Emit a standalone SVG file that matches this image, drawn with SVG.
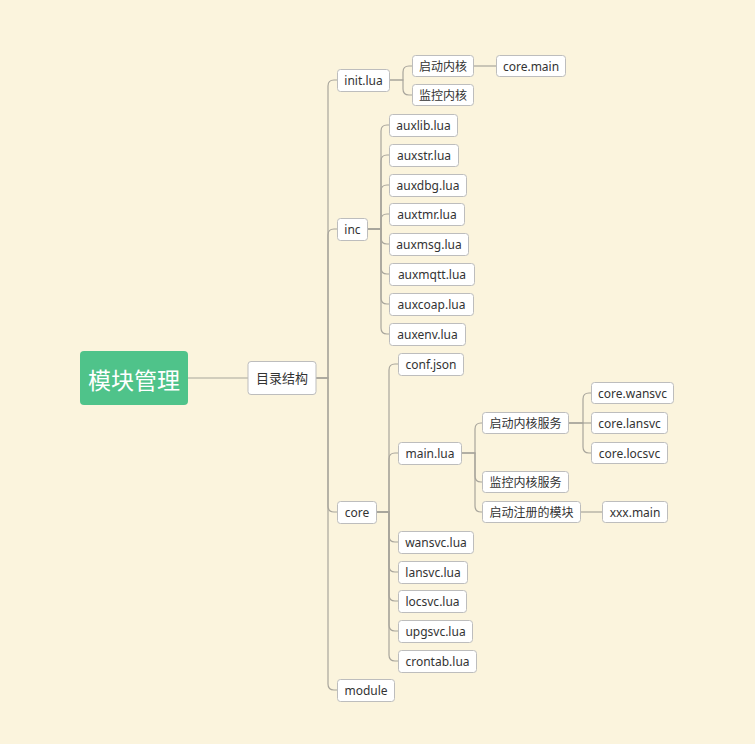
<svg xmlns="http://www.w3.org/2000/svg" width="755" height="744" viewBox="0 0 755 744">
<style>
.bg{fill:#FBF4DD}
.n rect{fill:#fff;stroke:#BDBDBD;stroke-width:1}
.n text{font-family:"Noto Sans","Noto Sans CJK SC",sans-serif;font-size:12px;fill:#333;text-anchor:middle;dominant-baseline:central}
.c path{fill:none;stroke:#A8A59C;stroke-width:1.2}
</style>
<rect class="bg" x="0" y="0" width="755" height="744"/>
<g class="c" id="connectors">
<path d="M188 378H248"/>
<path d="M316 378H328V86Q328 80 334 80H337"/>
<path d="M316 378H328V235Q328 229 334 229H337"/>
<path d="M316 378H328V506Q328 512 334 512H337"/>
<path d="M316 378H328V684Q328 690 334 690H337"/>
<path d="M389 80H403V72Q403 66 409 66H412"/>
<path d="M389 80H403V89Q403 95 409 95H412"/>
<path d="M473 66H496"/>
<path d="M367 229H381V131Q381 125 387 125H389"/>
<path d="M367 229H381V161Q381 155 387 155H389"/>
<path d="M367 229H381V191Q381 185 387 185H389"/>
<path d="M367 229H381V220Q381 214 387 214H389"/>
<path d="M367 229H381V238Q381 244 387 244H389"/>
<path d="M367 229H381V268Q381 274 387 274H389"/>
<path d="M367 229H381V298Q381 304 387 304H389"/>
<path d="M367 229H381V328Q381 334 387 334H389"/>
<path d="M376 512H389V370Q389 364 395 364H398"/>
<path d="M376 512H389V459Q389 453 395 453H398"/>
<path d="M376 512H389V536Q389 542 395 542H398"/>
<path d="M376 512H389V566Q389 572 395 572H398"/>
<path d="M376 512H389V595Q389 601 395 601H398"/>
<path d="M376 512H389V625Q389 631 395 631H398"/>
<path d="M376 512H389V655Q389 661 395 661H398"/>
<path d="M461 453H475V429Q475 423 481 423H482"/>
<path d="M461 453H475V476Q475 482 481 482H482"/>
<path d="M461 453H475V506Q475 512 481 512H482"/>
<path d="M568 423H583V399Q583 393 589 393H591"/>
<path d="M568 423H591"/>
<path d="M568 423H583V447Q583 453 589 453H591"/>
<path d="M580 512H602"/>
</g>
<g id="root"><rect x="80" y="351" width="108" height="54" rx="4" fill="#4FC38A"/><text x="134" y="379" font-family="'Noto Sans CJK SC',sans-serif" font-size="23" fill="#fff" text-anchor="middle" dominant-baseline="central">模块管理</text></g>
<g class="n" id="dir"><rect x="248" y="361.5" width="68" height="33" rx="3"/><text x="282" y="378" style="font-size:13px">目录结构</text></g>
<g class="n" id="init"><rect x="337.5" y="69.5" width="52" height="22" rx="3"/><text x="363.5" y="80.5">init.lua</text></g>
<g class="n" id="inc"><rect x="337.5" y="218.5" width="30" height="22" rx="3"/><text x="352.5" y="229.5">inc</text></g>
<g class="n" id="core"><rect x="337.5" y="501.5" width="39" height="22" rx="3"/><text x="357" y="512.5">core</text></g>
<g class="n" id="module"><rect x="337.5" y="679.5" width="57" height="22" rx="3"/><text x="366" y="690.5">module</text></g>
<g class="n" id="qdnh"><rect x="412.5" y="55.5" width="61" height="21" rx="3"/><text x="443" y="66">启动内核</text></g>
<g class="n" id="jknh"><rect x="412.5" y="84.5" width="61" height="21" rx="3"/><text x="443" y="95">监控内核</text></g>
<g class="n" id="coremain"><rect x="496.5" y="55.5" width="69" height="21" rx="3"/><text x="531" y="66">core.main</text></g>
<g class="n" id="auxlib"><rect x="389.5" y="114.5" width="68" height="22" rx="3"/><text x="423.5" y="125.5">auxlib.lua</text></g>
<g class="n" id="auxstr"><rect x="389.5" y="144.5" width="69" height="22" rx="3"/><text x="424" y="155.5">auxstr.lua</text></g>
<g class="n" id="auxdbg"><rect x="389.5" y="174.5" width="77" height="22" rx="3"/><text x="428" y="185.5">auxdbg.lua</text></g>
<g class="n" id="auxtmr"><rect x="389.5" y="203.5" width="75" height="22" rx="3"/><text x="427" y="214.5">auxtmr.lua</text></g>
<g class="n" id="auxmsg"><rect x="389.5" y="233.5" width="79" height="22" rx="3"/><text x="429" y="244.5">auxmsg.lua</text></g>
<g class="n" id="auxmqtt"><rect x="389.5" y="263.5" width="85" height="22" rx="3"/><text x="432" y="274.5">auxmqtt.lua</text></g>
<g class="n" id="auxcoap"><rect x="389.5" y="293.5" width="84" height="22" rx="3"/><text x="431.5" y="304.5">auxcoap.lua</text></g>
<g class="n" id="auxenv"><rect x="389.5" y="323.5" width="76" height="22" rx="3"/><text x="427.5" y="334.5">auxenv.lua</text></g>
<g class="n" id="confjson"><rect x="398.5" y="353.5" width="65" height="22" rx="3"/><text x="431" y="364.5">conf.json</text></g>
<g class="n" id="mainlua"><rect x="398.5" y="442.5" width="63" height="22" rx="3"/><text x="430" y="453.5">main.lua</text></g>
<g class="n" id="wansvc"><rect x="398.5" y="531.5" width="75" height="22" rx="3"/><text x="436" y="542.5">wansvc.lua</text></g>
<g class="n" id="lansvc"><rect x="398.5" y="561.5" width="69" height="22" rx="3"/><text x="433" y="572.5">lansvc.lua</text></g>
<g class="n" id="locsvc"><rect x="398.5" y="590.5" width="68" height="22" rx="3"/><text x="432.5" y="601.5">locsvc.lua</text></g>
<g class="n" id="upgsvc"><rect x="398.5" y="620.5" width="74" height="22" rx="3"/><text x="435.5" y="631.5">upgsvc.lua</text></g>
<g class="n" id="crontab"><rect x="398.5" y="650.5" width="78" height="22" rx="3"/><text x="437.5" y="661.5">crontab.lua</text></g>
<g class="n" id="qdnhfw"><rect x="482.5" y="412.5" width="86" height="21" rx="3"/><text x="525.5" y="423">启动内核服务</text></g>
<g class="n" id="jknhfw"><rect x="482.5" y="471.5" width="86" height="21" rx="3"/><text x="525.5" y="482">监控内核服务</text></g>
<g class="n" id="qdzcmk"><rect x="482.5" y="501.5" width="98" height="21" rx="3"/><text x="531.5" y="512">启动注册的模块</text></g>
<g class="n" id="corewansvc"><rect x="591.5" y="382.5" width="82" height="21" rx="3"/><text x="632.5" y="393">core.wansvc</text></g>
<g class="n" id="corelansvc"><rect x="591.5" y="412.5" width="76" height="21" rx="3"/><text x="629.5" y="423">core.lansvc</text></g>
<g class="n" id="corelocsvc"><rect x="591.5" y="442.5" width="76" height="21" rx="3"/><text x="629.5" y="453">core.locsvc</text></g>
<g class="n" id="xxxmain"><rect x="602.5" y="501.5" width="65" height="21" rx="3"/><text x="635" y="512">xxx.main</text></g>
</svg>
